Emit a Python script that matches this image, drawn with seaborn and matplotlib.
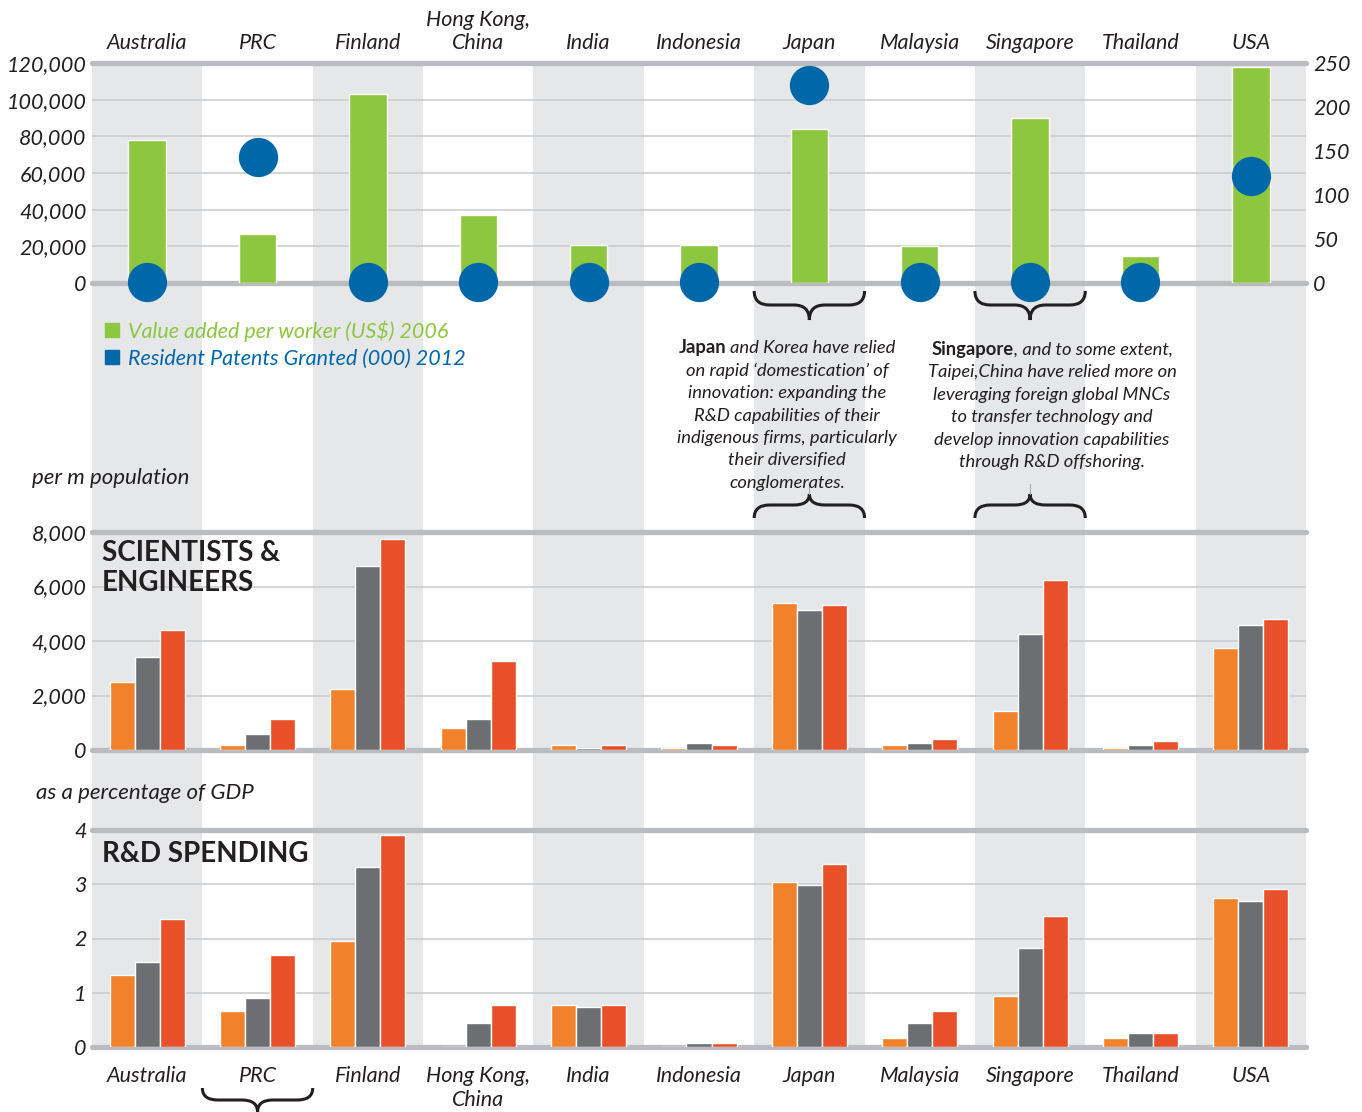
"""Innovation profile of selected economies.

Value added per worker and resident patents (top), scientists & engineers
per million population (middle) and R&D spending as a share of GDP (bottom).
"""

import matplotlib.pyplot as plt
import numpy as np
import pandas as pd
import seaborn as sns
from matplotlib.offsetbox import AnnotationBbox, HPacker, TextArea, VPacker
from matplotlib.patches import Patch, PathPatch
from matplotlib.path import Path
from matplotlib.ticker import FuncFormatter

COUNTRIES = ["Australia", "PRC", "Finland", "Hong Kong,\nChina", "India", "Indonesia",
             "Japan", "Malaysia", "Singapore", "Thailand", "USA"]

# top panel
VALUE_ADDED = [78000, 27000, 103000, 37000, 20500, 21000, 84000, 20000, 90000, 14500, 118000]
PATENTS = [1, 143, 1, 1, 1, 1, 225, 1, 1, 1, 122]

# middle panel, per m population (three periods, no legend in source)
SERIES = ["earlier", "middle", "latest"]
SCIENTISTS_EARLIER = [2500, 180, 2250, 820, 180, 60, 5400, 180, 1430, 60, 3750]
SCIENTISTS_MIDDLE = [3400, 600, 6750, 1150, 60, 250, 5150, 250, 4250, 180, 4580]
SCIENTISTS_LATEST = [4400, 1150, 7750, 3250, 180, 180, 5330, 400, 6250, 330, 4800]

# bottom panel, % of GDP
RD_EARLIER = [1.33, 0.67, 1.96, 0.0, 0.78, 0.0, 3.04, 0.17, 0.94, 0.17, 2.75]
RD_MIDDLE = [1.57, 0.91, 3.32, 0.45, 0.74, 0.08, 2.99, 0.45, 1.83, 0.25, 2.69]
RD_LATEST = [2.36, 1.70, 3.91, 0.78, 0.78, 0.08, 3.38, 0.67, 2.42, 0.25, 2.92]

GREEN = "#8DC63F"
BLUE = "#0067A9"
SERIES_COLORS = ["#F2812B", "#6D6E71", "#E8502A"]
BAND = "#E6E7E9"
GRID = "#C9CACC"
FRAME = "#BBBCBF"
INK = "#231F20"

W, H = 1362, 1112
AX_LEFT, AX_RIGHT = 92, 1306


def rect(top, bottom):
    """Axes rectangle in figure fractions from pixel rows."""
    return [AX_LEFT / W, 1 - bottom / H, (AX_RIGHT - AX_LEFT) / W, (bottom - top) / H]


def long_form(*series_values):
    return pd.DataFrame({
        "country": COUNTRIES * len(series_values),
        "series": np.repeat(SERIES, len(COUNTRIES)),
        "value": np.concatenate(series_values),
    })


def style_panel(ax, ymax, step, fmt):
    ax.set_xlim(-0.5, len(COUNTRIES) - 0.5)
    ax.set_ylim(0, ymax)
    ax.patch.set_visible(False)
    for side in ax.spines.values():
        side.set_visible(False)
    ticks = np.arange(0, ymax + step / 2, step)
    for t in ticks[1:-1]:
        ax.axhline(t, color=GRID, lw=1.1, zorder=0.5)
    ax.axhline(0, color=FRAME, lw=3.8, zorder=0.6, clip_on=False)
    ax.axhline(ymax, color=FRAME, lw=3.8, zorder=0.6, clip_on=False)
    ax.set_yticks(ticks)
    ax.yaxis.set_major_formatter(FuncFormatter(fmt))
    ax.tick_params(axis="both", length=0, labelsize=15.5, labelcolor=INK, pad=4)
    ax.set_xlabel("")
    ax.set_ylabel("")


def style_xlabels(ax, where):
    ax.tick_params(axis="x", top=where == "top", labeltop=where == "top",
                   bottom=where == "bottom", labelbottom=where == "bottom",
                   length=0, pad=7 if where == "top" else 14, labelsize=15.5)


def brace(ax, center, y_end, y_mid, y_tip, r=0.14):
    x0, x1 = center - 0.5, center + 0.5
    verts = [(x0, y_end), (x0, y_mid), (x0 + r, y_mid), (center - r, y_mid),
             (center, y_mid), (center, y_tip), (center, y_mid), (center + r, y_mid),
             (x1 - r, y_mid), (x1, y_mid), (x1, y_end)]
    codes = [Path.MOVETO, Path.CURVE3, Path.CURVE3, Path.LINETO, Path.CURVE3,
             Path.CURVE3, Path.CURVE3, Path.CURVE3, Path.LINETO, Path.CURVE3, Path.CURVE3]
    ax.add_patch(PathPatch(Path(verts, codes), fill=False, lw=2.2, color=INK,
                           capstyle="butt", clip_on=False))


def note(fig, lead, rest, lines, x, y, lead_sep):
    italic = dict(fontsize=13.2, style="italic", color=INK)
    bold = dict(fontsize=13.2, weight="bold", style="normal", color=INK)
    first = HPacker(children=[TextArea(lead, textprops=bold),
                              TextArea(rest, textprops=italic)],
                    sep=lead_sep, pad=0, align="baseline")
    rows = [first] + [TextArea(line, textprops=italic) for line in lines]
    box = VPacker(children=rows, sep=4.6, pad=0, align="center")
    fig.add_artist(AnnotationBbox(box, (x / W, 1 - y / H), xycoords="figure fraction",
                                  box_alignment=(0.5, 1), frameon=False, pad=0))


def main():
    sns.set_theme(style="white")
    plt.rcParams["font.family"] = ["Lato", "DejaVu Sans"]
    plt.rcParams["font.style"] = "italic"

    fig = plt.figure(figsize=(W / 100, H / 100), dpi=100)

    # shared background with alternating bands, y in pixel rows
    bg = fig.add_axes(rect(63, 1050))
    bg.set_xlim(-0.5, len(COUNTRIES) - 0.5)
    bg.set_ylim(1050, 63)
    bg.axis("off")
    for i in range(0, len(COUNTRIES), 2):
        bg.axvspan(i - 0.5, i + 0.5, color=BAND, lw=0, zorder=0)

    # top: value added per worker + patents
    ax_top = fig.add_axes(rect(63, 283))
    sns.barplot(x=COUNTRIES, y=VALUE_ADDED, order=COUNTRIES, color=GREEN,
                saturation=1, width=0.34, ax=ax_top, zorder=2)
    style_panel(ax_top, 120000, 20000, lambda v, _: f"{v:,.0f}")
    style_xlabels(ax_top, "top")

    ax_pat = ax_top.twinx()
    ax_pat.set_ylim(0, 250)
    sns.scatterplot(x=np.arange(len(COUNTRIES)), y=PATENTS, s=800, color=BLUE,
                    linewidth=0, ax=ax_pat, clip_on=False, zorder=3)
    ax_pat.set_xlim(-0.5, len(COUNTRIES) - 0.5)
    for side in ax_pat.spines.values():
        side.set_visible(False)
    ax_pat.set_yticks(np.arange(0, 251, 50))
    ax_pat.tick_params(axis="y", length=0, labelsize=15.5, labelcolor=INK, pad=5)
    ax_pat.set_ylabel("")

    ax_top.legend(handles=[Patch(color=GREEN), Patch(color=BLUE)],
                  labels=["Value added per worker (US$) 2006",
                          "Resident Patents Granted (000) 2012"],
                  labelcolor=[GREEN, BLUE], frameon=False, loc="upper left",
                  bbox_to_anchor=(105 / W, 1 - 320 / H), bbox_transform=fig.transFigure,
                  handlelength=0.65, handleheight=0.65, handletextpad=0.4,
                  labelspacing=0.33, borderaxespad=0, borderpad=0,
                  prop=dict(size=15.5, style="italic"))

    # middle: scientists & engineers
    ax_mid = fig.add_axes(rect(532, 750))
    sns.barplot(data=long_form(SCIENTISTS_EARLIER, SCIENTISTS_MIDDLE, SCIENTISTS_LATEST),
                x="country", y="value", hue="series", order=COUNTRIES, hue_order=SERIES,
                palette=SERIES_COLORS, saturation=1, width=0.68, gap=0,
                errorbar=None, legend=False, ax=ax_mid, zorder=2)
    style_panel(ax_mid, 8000, 2000, lambda v, _: f"{v:,.0f}")
    style_xlabels(ax_mid, "none")

    # bottom: R&D spending
    ax_bot = fig.add_axes(rect(830, 1047))
    sns.barplot(data=long_form(RD_EARLIER, RD_MIDDLE, RD_LATEST),
                x="country", y="value", hue="series", order=COUNTRIES, hue_order=SERIES,
                palette=SERIES_COLORS, saturation=1, width=0.68, gap=0,
                errorbar=None, legend=False, ax=ax_bot, zorder=2)
    style_panel(ax_bot, 4, 1, lambda v, _: f"{v:.0f}")
    style_xlabels(ax_bot, "bottom")

    # panel titles and unit labels
    fig.text(102 / W, 1 - 540 / H, "SCIENTISTS &\nENGINEERS", fontsize=20,
             weight="bold", style="normal", color=INK, va="top", linespacing=1.17)
    fig.text(102 / W, 1 - 854 / H, "R&D SPENDING", fontsize=20, weight="bold",
             style="normal", color=INK, va="center")
    fig.text(32 / W, 1 - 478 / H, "per m population", fontsize=16, color=INK,
             va="center")
    fig.text(36 / W, 1 - 793 / H, "as a percentage of GDP", fontsize=16, color=INK,
             va="center")

    # braces, with the thin leader running from the lower brace tips to the notes
    japan, singapore, prc = COUNTRIES.index("Japan"), COUNTRIES.index("Singapore"), 1
    for c in (japan, singapore):
        brace(bg, c, 291, 305, 320)
        brace(bg, c, 518, 505, 494)
        bg.plot([c, c], [494, 484], color="#A7A9AC", lw=0.8, zorder=1)
    brace(bg, prc, 1088, 1100, 1112)

    note(fig, "Japan", "and Korea have relied",
         ["on rapid \u2018domestication\u2019 of", "innovation: expanding the",
          "R&D capabilities of their", "indigenous firms, particularly",
          "their diversified", "conglomerates."], 787, 339, 2.5)
    note(fig, "Singapore", ", and to some extent,",
         ["Taipei,China have relied more on", "leveraging foreign global MNCs",
          "to transfer technology and", "develop innovation capabilities",
          "through R&D offshoring."], 1052, 341, 0)

    fig.savefig("out.png", dpi=100)
    plt.close(fig)


if __name__ == "__main__":
    main()
